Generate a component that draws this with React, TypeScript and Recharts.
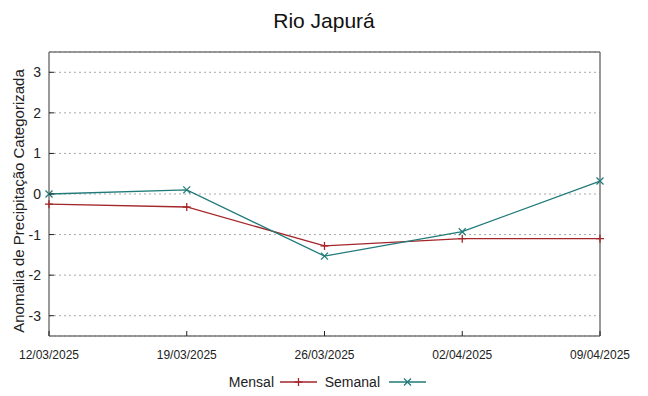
import { LineChart, Line, XAxis, YAxis, CartesianGrid } from 'recharts'

const datas = ['12/03/2025', '19/03/2025', '26/03/2025', '02/04/2025', '09/04/2025']
const mensal = [-0.25, -0.32, -1.28, -1.1, -1.1]
const semanal = [0.0, 0.1, -1.53, -0.93, 0.32]
const yTicks = [3, 2, 1, 0, -1, -2, -3]

const data = datas.map((d, i) => ({ data: d, mensal: mensal[i], semanal: semanal[i] }))

const RED = '#a3262a'
const TEAL = '#217a7a'
const BOX = '#777'
const FONT = '"Liberation Sans", Arial, sans-serif'

const PLOT_LEFT = 49
const PLOT_RIGHT = 600

function PlusDot (props: any) {
  const { cx, cy } = props
  if (cx == null || cy == null) return null
  return (
    <g stroke={RED} strokeWidth={1.3}>
      <line x1={cx - 4} y1={cy} x2={cx + 4} y2={cy} />
      <line x1={cx} y1={cy - 4} x2={cx} y2={cy + 4} />
    </g>
  )
}

function CrossDot (props: any) {
  const { cx, cy } = props
  if (cx == null || cy == null) return null
  return (
    <g stroke={TEAL} strokeWidth={1.2}>
      <line x1={cx - 3.5} y1={cy - 3.5} x2={cx + 3.5} y2={cy + 3.5} />
      <line x1={cx - 3.5} y1={cy + 3.5} x2={cx + 3.5} y2={cy - 3.5} />
    </g>
  )
}

function LeftTick (props: any) {
  const { x, y, payload } = props
  return (
    <g>
      <line x1={PLOT_LEFT} y1={y} x2={PLOT_LEFT + 5} y2={y} stroke="#222" strokeWidth={1} />
      <text x={x} y={y} dy={5} textAnchor="end" fontSize={14} fill="#222" fontFamily={FONT}>{payload.value}</text>
    </g>
  )
}

function RightTick (props: any) {
  const { y } = props
  return <line x1={PLOT_RIGHT - 5} y1={y} x2={PLOT_RIGHT} y2={y} stroke="#222" strokeWidth={1} />
}

function BottomTick (props: any) {
  const { x, y, payload } = props
  return (
    <g>
      <line x1={x} y1={336} x2={x} y2={331} stroke="#222" strokeWidth={1} />
      <text x={x} y={y} dy={9} textAnchor="middle" fontSize={12} fill="#222" fontFamily={FONT}>{payload.value}</text>
    </g>
  )
}

export default function App () {
  return (
    <div style={{ position: 'absolute', left: 0, top: 0, width: 648, height: 396, background: '#fff' }}>
      <LineChart width={648} height={396} data={data} margin={{ top: 51, right: 47, bottom: 30, left: 0 }}>
        <CartesianGrid vertical={false} stroke="#a8a8a8" strokeDasharray="2 3" />
        <XAxis dataKey="data" height={30} tickLine={false} tickSize={0} tickMargin={14}
          axisLine={{ stroke: BOX, strokeWidth: 1.5 }} tick={<BottomTick />} interval={0} />
        <XAxis xAxisId="top" dataKey="data" orientation="top" height={1} tick={false} tickLine={false}
          axisLine={{ stroke: BOX, strokeWidth: 1.5 }} />
        <YAxis domain={[-3.5, 3.5]} ticks={yTicks} width={49} tickLine={false} tickSize={0} tickMargin={8}
          axisLine={{ stroke: BOX, strokeWidth: 1.5 }} tick={<LeftTick />}
          label={{ value: 'Anomalia de Precipitação Categorizada', angle: -90, position: 'insideLeft', offset: 0, dx: 19, dy: 7, style: { textAnchor: 'middle', fontSize: 15, fill: '#222', fontFamily: FONT } }} />
        <YAxis yAxisId="r" orientation="right" domain={[-3.5, 3.5]} ticks={yTicks} width={1} tickLine={false}
          axisLine={{ stroke: BOX, strokeWidth: 1.5 }} tick={<RightTick />} />
        <Line type="linear" dataKey="mensal" stroke={RED} strokeWidth={1.3} dot={<PlusDot />} activeDot={false} isAnimationActive={false} />
        <Line type="linear" dataKey="semanal" stroke={TEAL} strokeWidth={1.3} dot={<CrossDot />} activeDot={false} isAnimationActive={false} />
      </LineChart>
      <svg width={648} height={396} style={{ position: 'absolute', left: 0, top: 0, pointerEvents: 'none' }}>
        <text x={324} y={28} textAnchor="middle" fontSize={21} fill="#111" fontFamily={FONT}>Rio Japurá</text>
        <text x={274} y={387} textAnchor="end" fontSize={14} fill="#222" fontFamily={FONT}>Mensal</text>
        <line x1={280} y1={382} x2={317} y2={382} stroke={RED} strokeWidth={1.3} />
        <PlusDot cx={298.5} cy={382} />
        <text x={380} y={387} textAnchor="end" fontSize={14} fill="#222" fontFamily={FONT}>Semanal</text>
        <line x1={389} y1={382} x2={426} y2={382} stroke={TEAL} strokeWidth={1.3} />
        <CrossDot cx={407.5} cy={382} />
      </svg>
    </div>
  )
}
